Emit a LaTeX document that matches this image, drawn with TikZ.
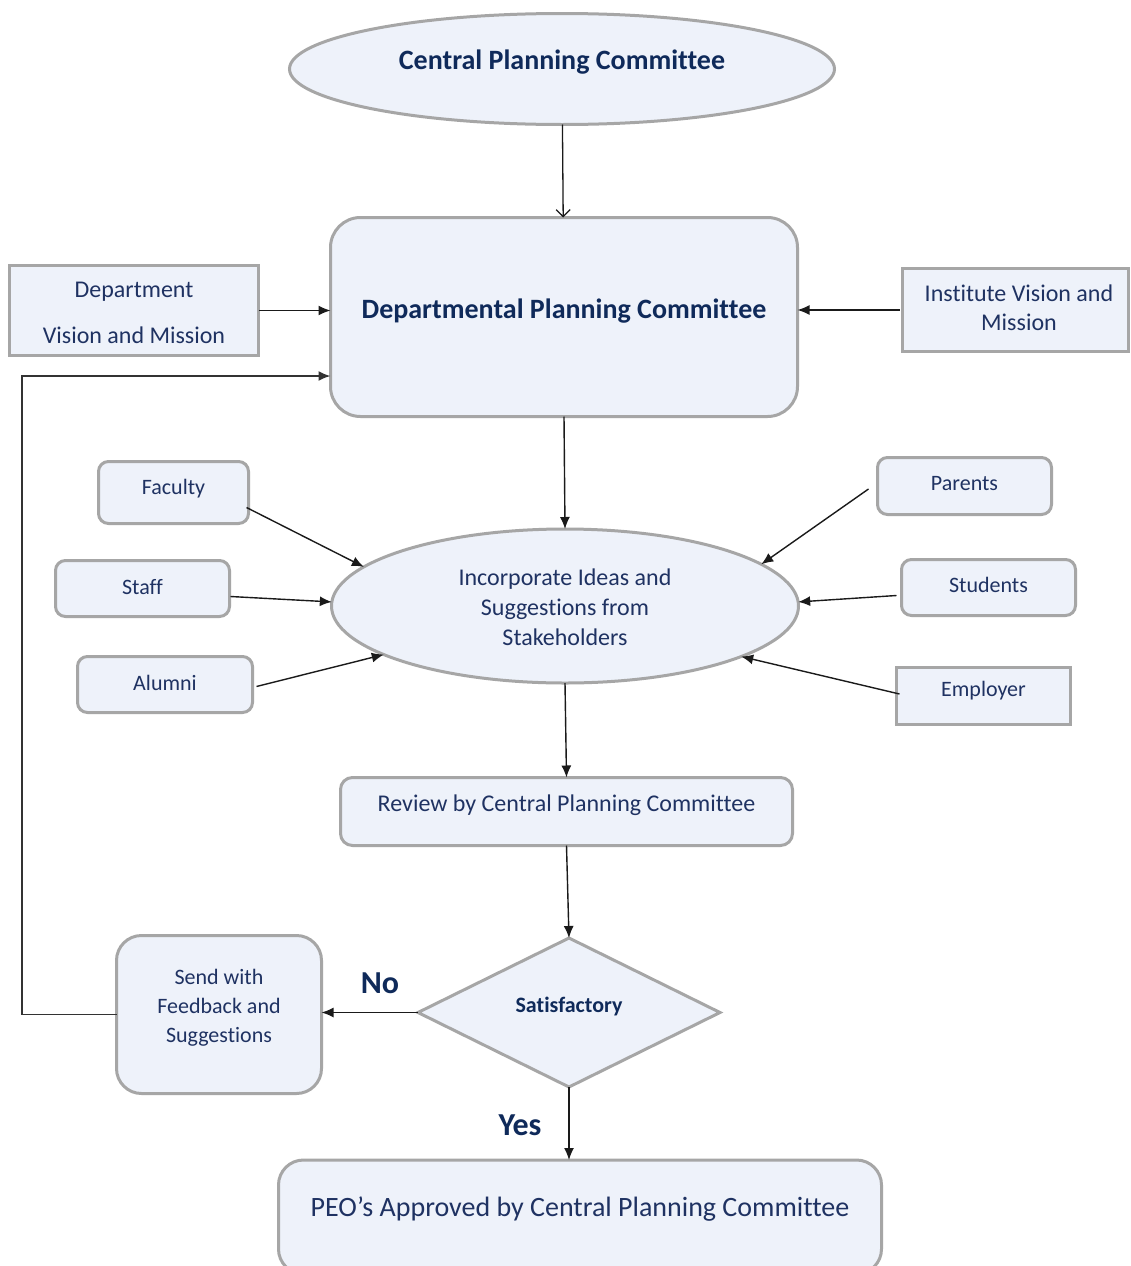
\documentclass[tikz,border=0pt]{standalone}
\usepackage{fontspec}
\setmainfont{Carlito}[Ligatures=CommonOff]
\usetikzlibrary{shapes.geometric,arrows.meta,calc}

\definecolor{boxfill}{HTML}{EEF2FA}
\definecolor{boxline}{HTML}{A6A6A6}
\definecolor{navy}{HTML}{1F3262}
\definecolor{navybold}{HTML}{0F2A5A}
\definecolor{wire}{HTML}{1A1A1A}
\definecolor{loopwire}{HTML}{333333}

\begin{document}
\begin{tikzpicture}[x=1pt,y=-1pt,
  shapebox/.style={draw=boxline,line width=3pt,fill=boxfill,inner sep=0pt,outer sep=0pt},
  sqbox/.style={shapebox,rectangle},
  rbox/.style={shapebox,rectangle,rounded corners=#1},
  rbox/.default=10pt,
  oval/.style={shapebox,ellipse},
  decision/.style={shapebox,diamond},
  txt/.style={text=navy,inner sep=0pt,align=center,font=\fontsize{22}{27}\selectfont},
  txtbig/.style={txt,font=\fontsize{24}{30}\selectfont},
  txthuge/.style={txt,font=\fontsize{28}{34}\selectfont},
  headline/.style={text=navybold,inner sep=0pt,align=center,font=\fontsize{28}{34}\selectfont\bfseries},
  smallbold/.style={text=navybold,inner sep=0pt,align=center,font=\fontsize{22}{27}\selectfont\bfseries},
  answer/.style={text=navybold,inner sep=0pt,font=\fontsize{32}{38}\selectfont\bfseries},
  arrow/.style={draw=wire,line width=1.4pt,-{Latex[length=12pt,width=10pt]}},
  openarrow/.style={draw=wire,line width=1.3pt,-{Straight Barb[length=7pt,width=14pt]}},
  loopline/.style={draw=loopwire,line width=1.8pt,-{Latex[length=12pt,width=10pt]}},
]
\path[use as bounding box,fill=white] (0,0) rectangle (1130,1266);

% committees
\node[oval,minimum width=545pt,minimum height=111pt] (cpc) at (562,69) {};
\node[headline] (cpc-t) at (562,62) {Central Planning Committee};

\node[rbox=30pt,minimum width=467pt,minimum height=199pt] (dpc) at (564,317) {};
\node[headline] (dpc-t) at (564,311) {Departmental Planning Committee};

% vision and mission inputs
\node[sqbox,minimum width=249pt,minimum height=90pt] (dvm) at (134,310.5) {};
\node[txtbig,font=\fontsize{24}{46}\selectfont] (dvm-t) at (134,313) {Department\\Vision and Mission};

\node[sqbox,minimum width=226pt,minimum height=83pt] (ivm) at (1015.5,310) {};
\node[txtbig,font=\fontsize{24}{29}\selectfont] (ivm-t) at (1019,308) {Institute Vision and\\Mission};

% stakeholder ellipse
\node[oval,minimum width=467pt,minimum height=154pt] (inc) at (565,606) {};
\node[txtbig] (inc-t) at (565,607) {Incorporate Ideas and\\Suggestions from\\Stakeholders};

% stakeholders
\node[rbox,minimum width=150pt,minimum height=62pt] (fac) at (173.5,492.5) {};
\node[txt] (fac-t) at (173.5,489) {Faculty};
\node[rbox,minimum width=174pt,minimum height=56pt] (staff) at (142.5,588.5) {};
\node[txt] (staff-t) at (142.5,587) {Staff};
\node[rbox,minimum width=175pt,minimum height=56pt] (alum) at (165,684.5) {};
\node[txt] (alum-t) at (165,683) {Alumni};
\node[rbox,minimum width=174pt,minimum height=57pt] (par) at (964.5,486) {};
\node[txt] (par-t) at (964.5,484) {Parents};
\node[rbox,minimum width=174pt,minimum height=56pt] (stu) at (988.5,587.5) {};
\node[txt] (stu-t) at (988.5,585) {Students};
\node[sqbox,minimum width=174pt,minimum height=57pt] (emp) at (983.5,696) {};
\node[txt] (emp-t) at (983.5,691) {Employer};

% review and decision
\node[rbox=12pt,minimum width=452pt,minimum height=68pt] (rev) at (566.5,811.5) {};
\node[txtbig] (rev-t) at (566.5,805) {Review by Central Planning Committee};

\node[decision,minimum width=302pt,minimum height=149pt] (dia) at (569,1012.5) {};
\node[smallbold] (dia-t) at (569,1006) {Satisfactory};

\node[rbox=25pt,minimum width=205pt,minimum height=158pt] (send) at (219,1014.5) {};
\node[txt,font=\fontsize{22}{29}\selectfont] (send-t) at (219,1008) {Send with\\Feedback and\\Suggestions};

\node[rbox=25pt,minimum width=603pt,minimum height=114pt] (peo) at (580,1217) {};
\node[txthuge] (peo-t) at (580,1209) {PEO’s Approved by Central Planning Committee};

\node[answer] (no) at (380,983) {No};
\node[answer] (yes) at (520,1125) {Yes};

% connectors
\draw[openarrow] (cpc) -- (dpc);
\draw[arrow] (dvm.east) -- (dvm.east -| dpc.west);
\draw[arrow] ($(ivm.west)+(-3,0)$) -- (ivm.west -| dpc.east);
\draw[arrow] (dpc.south) -- (inc.north);

\draw[arrow] ($(fac.east)+(-2,15)$) -- (inc.169);
\draw[arrow] ($(staff.east)+(1,8)$) -- (inc.179);
\draw[arrow] ($(alum.east)+(4,2)$) -- (inc.195);
\draw[arrow] ($(par.west)+(-9,3)$) -- (inc.12);
\draw[arrow] ($(stu.west)+(-5,8)$) -- (inc.1);
\draw[arrow] ($(emp.west)+(3,-2)$) -- (inc.344);

\draw[arrow] (inc.south) -- (rev.north);
\draw[arrow] (rev.south) -- (dia.north);
\draw[arrow] (dia.west) -- (dia.west -| send.east);
\draw[arrow] (dia.south) -- (dia.south |- peo.north);

\coordinate (loopc) at (22,1014.5);
\draw[loopline] (send.west) -- (loopc) |- ($(dpc.west)+(0,59)$);
\end{tikzpicture}
\end{document}
